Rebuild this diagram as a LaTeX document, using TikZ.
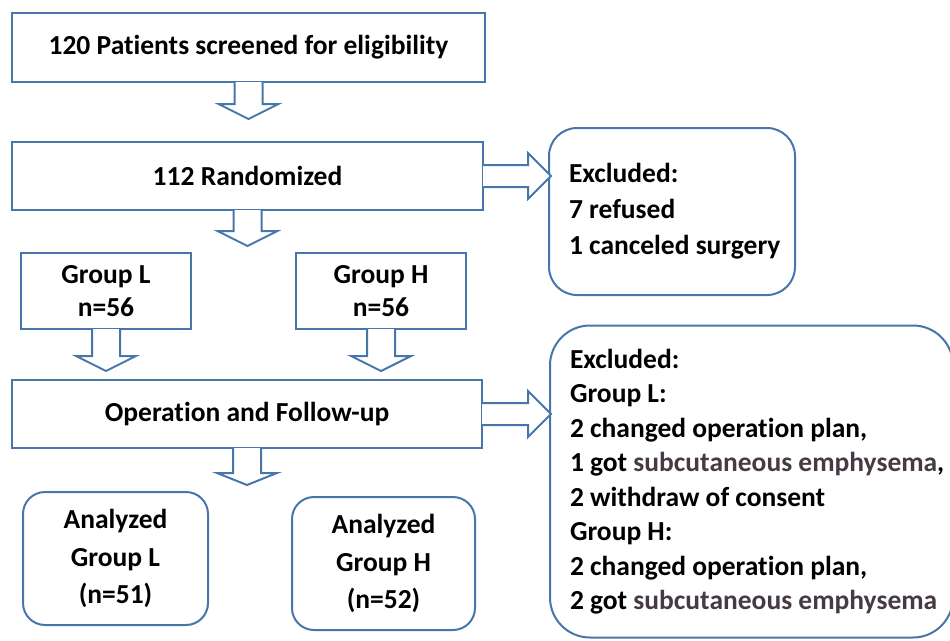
\documentclass[tikz,border=0pt]{standalone}
\usepackage{fontspec}
\setmainfont{Carlito}[Ligatures=NoCommon]
\usepackage{xcolor}
\usetikzlibrary{positioning}
\definecolor{boxblue}{RGB}{70,118,170}
\definecolor{greytxt}{RGB}{70,58,68}

% hollow block arrows that grow out of a box
\newcommand{\downblock}[3]{%
 \path[blockarrow] ([xshift=-14pt,yshift=1pt]#1.south) -- ++(0,#2+1) -- ++(-16,0)
 -- ++(30,#3) -- ++(30,-#3) -- ++(-16,0) -- ++(0,-#2-1);}
\newcommand{\rightblock}[3]{%
 \path[blockarrow] ([xshift=-1pt,yshift=11pt]#1.east) -- ++(#2+1,0) -- ++(0,-12)
 -- ++(#3,23) -- ++(-#3,23) -- ++(0,-12) -- ++(-#2-1,0);}

\begin{document}
\begin{tikzpicture}[x=1pt,y=-1pt,
 box/.style={draw=boxblue,line width=2pt,align=center,inner sep=0pt,
 font=\bfseries\fontsize{27.5}{33}\selectfont},
 rbox/.style={box,rounded corners=22pt,font=\bfseries\fontsize{27.5}{37.5}\selectfont},
 exbox/.style={box,align=flush left,inner xsep=20pt},
 blockarrow/.style={draw=boxblue,line width=2pt,fill=white,line join=miter}]
\useasboundingbox (0,0) rectangle (950,640);

\node[box,minimum width=473,minimum height=69] (scr) at (248.5,47.5) {120 Patients screened for eligibility};
\node[box,minimum width=471,minimum height=68] (rnd) at (247.5,176) {112 Randomized};
\node[exbox,rounded corners=28pt,text width=206,minimum height=167,
 font=\bfseries\fontsize{27.5}{36}\selectfont] (ex1) at (672,211.5)
 {Excluded:\\7 refused\\\mbox{1 canceled surgery}};
\node[box,minimum width=170,minimum height=76] (gl) at (106,291) {Group L\\n=56};
\node[box,minimum width=170,minimum height=76] (gh) at (381,291) {Group H\\n=56};
\node[box,minimum width=470,minimum height=68] (op) at (247,414) {Operation and Follow-up};
\node[rbox,minimum width=185,minimum height=133] (al) at (115.5,558.5) {Analyzed\\Group L\\(n=51)};
\node[rbox,minimum width=183,minimum height=133] (ah) at (383.5,563.5) {Analyzed\\Group H\\(n=52)};
\node[exbox,rounded corners=40pt,text width=363,minimum height=312,
 font=\bfseries\fontsize{27.5}{34.5}\selectfont] (ex2) at (751.5,481.5)
 {Excluded:\\Group L:\\\mbox{2 changed operation plan,}\\
 \mbox{1 got \textcolor{greytxt}{subcutaneous emphysema},}\\\mbox{2 withdraw of consent}\\
 Group H:\\\mbox{2 changed operation plan,}\\\mbox{2 got \textcolor{greytxt}{subcutaneous emphysema}}};

\downblock{scr}{21}{15}
\downblock{rnd}{20}{15}
\downblock{gl}{26}{15}
\downblock{gh}{26}{15}
\downblock{op}{24}{12}
\rightblock{rnd}{44}{23}
\rightblock{op}{45}{23}
\end{tikzpicture}
\end{document}
